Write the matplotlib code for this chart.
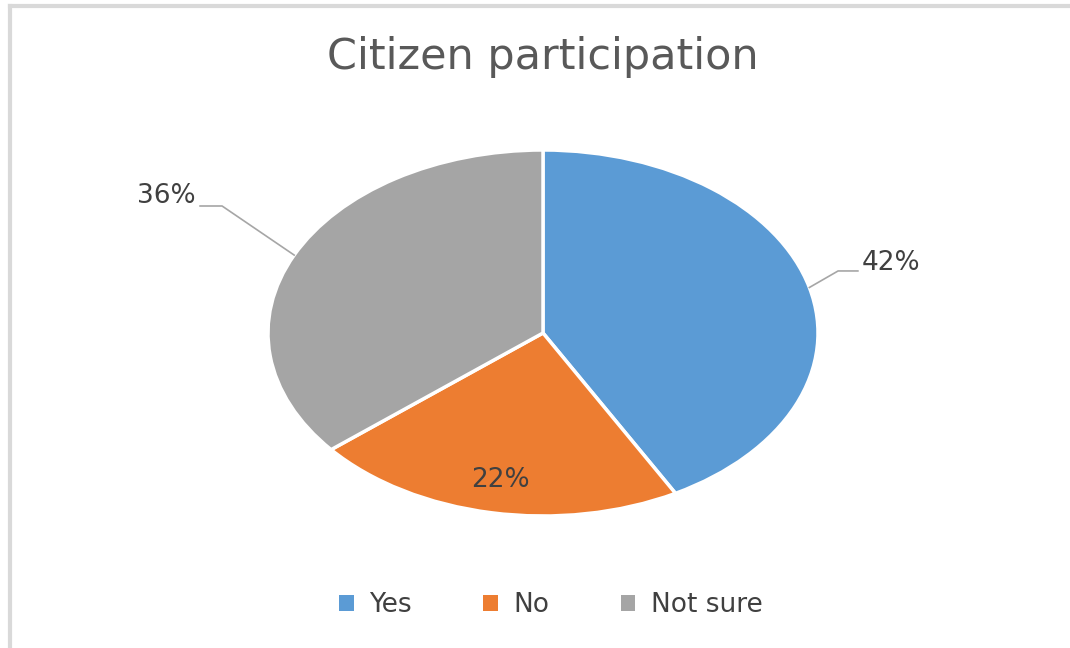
import numpy as np
import matplotlib
matplotlib.use('Agg')
from matplotlib import pyplot as plt
from matplotlib.patches import Patch
from matplotlib.lines import Line2D

labels = ['Yes', 'No', 'Not sure']
shares = [42, 22, 36]
colors = ['#5B9BD5', '#ED7D31', '#A5A5A5']
title = 'Citizen participation'

fig = plt.figure(figsize=(10.7, 6.48), dpi=100)
fig.patch.set_facecolor('white')

# chart frame (left and top edges only)
fig.add_artist(Line2D([0.009, 0.009], [0, 0.99], color='#d9d9d9', lw=3))
fig.add_artist(Line2D([0.009, 1.0], [0.99, 0.99], color='#d9d9d9', lw=3))

ax = fig.add_axes([268/1070, 132/648, 550/1070, 366/648])
wedges, _ = ax.pie(shares, colors=colors, startangle=90, counterclock=False,
                   wedgeprops=dict(edgecolor='white', linewidth=2.5))
ax.set_aspect('auto')
ax.set_xlim(-1, 1)
ax.set_ylim(-1, 1)
ax.axis('off')

txt_kw = dict(fontsize=19, color='#404040', family='DejaVu Sans')
lc = '#a6a6a6'

for w, s in zip(wedges, shares):
    mid = np.deg2rad((w.theta1 + w.theta2) / 2)
    cx, cy = np.cos(mid), np.sin(mid)
    lab = '%d%%' % s
    if s == 22:
        ax.text(0.82 * cx, 0.82 * cy, lab, ha='center', va='center', **txt_kw)
    elif cx > 0:
        ax.plot([cx, 1.073, 1.145], [cy, 0.339, 0.339], color=lc, lw=1.2, clip_on=False)
        ax.text(1.16, 0.385, lab, ha='left', va='center', **txt_kw)
    else:
        ax.plot([cx, -1.167, -1.247], [cy, 0.694, 0.694], color=lc, lw=1.2, clip_on=False)
        ax.text(-1.262, 0.75, lab, ha='right', va='center', **txt_kw)

fig.text(543/1070, 1 - 57/648, title, ha='center', va='center',
         fontsize=31, color='#595959', family='DejaVu Sans')

handles = [Patch(facecolor=c, edgecolor='none', label=l) for c, l in zip(colors, labels)]
leg = fig.legend(handles=handles, loc='center', bbox_to_anchor=(551/1070, 1 - 605/648),
                 ncol=3, frameon=False, handlelength=0.55, handleheight=0.55,
                 handletextpad=0.6, columnspacing=2.7,
                 prop=dict(size=19, family='DejaVu Sans'))
for t in leg.get_texts():
    t.set_color('#404040')

fig.savefig('out.png', dpi=100)
